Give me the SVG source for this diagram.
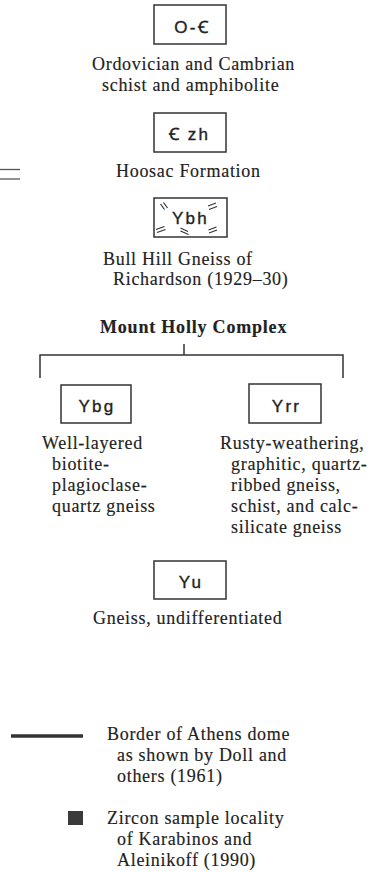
<svg xmlns="http://www.w3.org/2000/svg" width="377" height="872" viewBox="0 0 377 872">
<style>
.box{fill:#fff;stroke:#333;stroke-width:1.5}
.lbl{font-family:"Liberation Sans","DejaVu Sans",Arial,sans-serif;font-size:17px;letter-spacing:2.2px;fill:#222;stroke:#222;stroke-width:0.35;text-anchor:middle}
.t{font-family:"Liberation Serif","Times New Roman",serif;font-size:18px;letter-spacing:0.7px;fill:#222;stroke:#222;stroke-width:0.15}
.b{font-weight:bold;letter-spacing:0.8px}
.tick{stroke:#333;stroke-width:1.2;fill:none}
.con{stroke:#333;stroke-width:1.5;fill:none}
.frag{stroke:#555;stroke-width:1.3}
</style>
<rect width="377" height="872" fill="#fff"/>
<g id="map-fragment">
<line class="frag" x1="0" y1="169.5" x2="20" y2="169.5"/>
<line class="frag" x1="0" y1="179" x2="20" y2="179"/>
</g>
<g id="node-OC">
<rect class="box" x="154" y="5" width="72" height="39"/>
<text class="lbl" x="192" y="33">O-Ꞓ</text>
<text class="t" x="92" y="70">Ordovician and Cambrian</text>
<text class="t" x="102" y="91">schist and amphibolite</text>
</g>
<g id="node-Czh">
<rect class="box" x="154" y="113" width="72" height="39"/>
<text class="lbl" x="189.5" y="140">Ꞓ zh</text>
<text class="t" x="116" y="176.5">Hoosac Formation</text>
</g>
<g id="node-Ybh">
<rect class="box" x="154" y="198" width="73" height="39"/>
<text class="lbl" x="190.5" y="224">Ybh</text>
<g class="tick">
<line x1="160.5" y1="204" x2="164.5" y2="209.5"/>
<line x1="163.5" y1="202.5" x2="167.5" y2="208"/>
<line x1="208" y1="206" x2="216" y2="203"/>
<line x1="209" y1="209.5" x2="217" y2="206.5"/>
<line x1="156" y1="229.5" x2="164.5" y2="226.5"/>
<line x1="157" y1="232.5" x2="165.5" y2="229.5"/>
<line x1="180.5" y1="228" x2="188" y2="231.5"/>
<line x1="180.5" y1="231" x2="188.5" y2="234.5"/>
<line x1="208.5" y1="230" x2="216.5" y2="227"/>
<line x1="209" y1="233" x2="217" y2="230"/>
</g>
<text class="t" x="103" y="265">Bull Hill Gneiss of</text>
<text class="t" x="113" y="285">Richardson (1929–30)</text>
</g>
<g id="node-MountHolly">
<text class="t b" x="100" y="332.5">Mount Holly Complex</text>
</g>
<g id="connectors">
<path class="con" d="M40,378 V355 H343 V378"/>
<path class="con" d="M184,344 V355"/>
</g>
<g id="node-Ybg">
<rect class="box" x="61" y="385" width="70" height="38"/>
<text class="lbl" x="97" y="411.5">Ybg</text>
<text class="t" x="42" y="449">Well-layered</text>
<text class="t" x="52" y="470">biotite-</text>
<text class="t" x="52" y="491">plagioclase-</text>
<text class="t" x="52" y="512">quartz gneiss</text>
</g>
<g id="node-Yrr">
<rect class="box" x="249" y="384" width="72" height="39"/>
<text class="lbl" x="286.5" y="411.5">Yrr</text>
<text class="t" x="220" y="449">Rusty-weathering,</text>
<text class="t" x="231" y="470">graphitic, quartz-</text>
<text class="t" x="231" y="491">ribbed gneiss,</text>
<text class="t" x="231" y="512">schist, and calc-</text>
<text class="t" x="231" y="533">silicate gneiss</text>
</g>
<g id="node-Yu">
<rect class="box" x="154" y="561" width="72" height="38"/>
<text class="lbl" x="191" y="587.5">Yu</text>
<text class="t" x="93" y="624">Gneiss, undifferentiated</text>
</g>
<g id="legend-border">
<line x1="11" y1="736" x2="83" y2="736" stroke="#333" stroke-width="3.5"/>
<text class="t" x="107" y="740">Border of Athens dome</text>
<text class="t" x="117" y="761">as shown by Doll and</text>
<text class="t" x="117" y="782">others (1961)</text>
</g>
<g id="legend-zircon">
<rect x="68" y="811" width="15" height="14" fill="#3a3a3a"/>
<text class="t" x="107" y="824">Zircon sample locality</text>
<text class="t" x="117" y="845">of Karabinos and</text>
<text class="t" x="117" y="866">Aleinikoff (1990)</text>
</g>
</svg>
